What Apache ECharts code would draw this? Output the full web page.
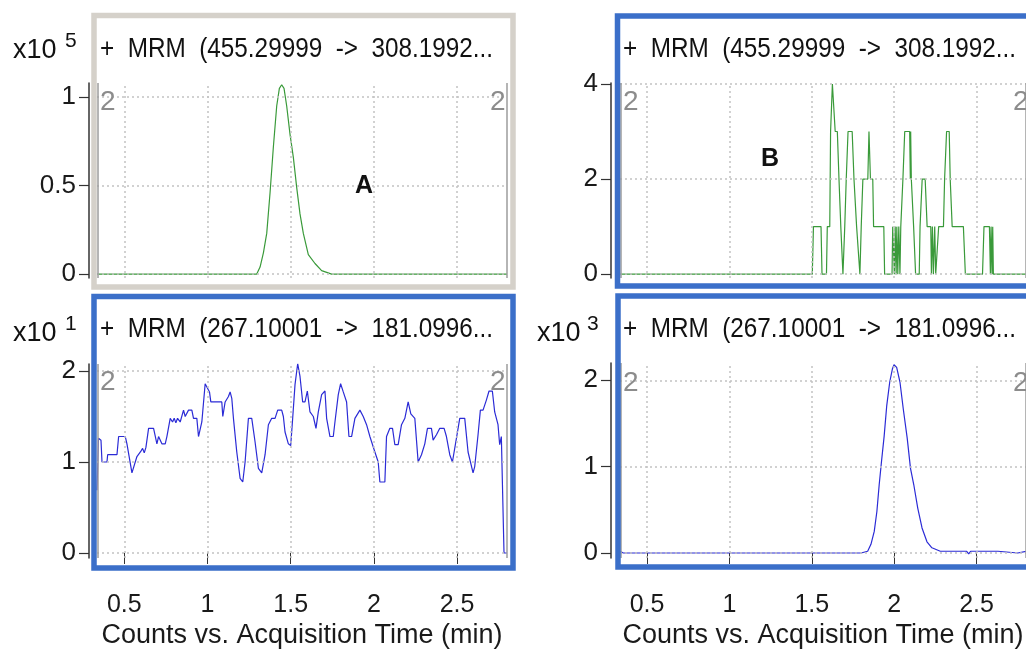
<!DOCTYPE html>
<html><head><meta charset="utf-8">
<script src="https://cdn.jsdelivr.net/npm/echarts@6/dist/echarts.min.js"></script>
<style>html,body{margin:0;padding:0;background:#fff;overflow:hidden}#c{width:1026px;height:657px}</style>
</head><body><div id="c"></div>
<script>
// ---- data ----
const headerTop = '+  MRM  (455.29999  ->  308.1992...';
const headerBottom = '+  MRM  (267.10001  ->  181.0996...';
const xTitle = 'Counts vs. Acquisition Time (min)';
const timeTicks = [0.5, 1, 1.5, 2, 2.5];
const timeRange = [0.336, 2.8];
const yTicksA = [0, 0.5, 1];
const yTicksB = [0, 2, 4];
const yTicksC = [0, 1, 2];
const yTicksD = [0, 1, 2];
const exponentA = '5', exponentC = '1', exponentD = '3';
const panelLabels = ['A', 'B'];

// A: counts x10^5 (455.3 -> 308.2), peak ~1.45 min
const seriesA = [[0.336,0],[1.296,0],[1.316,0.04],[1.336,0.12],[1.356,0.23],[1.376,0.46],[1.396,0.72],[1.416,0.95],[1.432,1.05],[1.446,1.07],[1.46,1.05],[1.476,0.95],[1.496,0.79],[1.516,0.66],[1.536,0.49],[1.556,0.34],[1.576,0.23],[1.606,0.11],[1.646,0.06],[1.686,0.02],[1.746,0],[2.8,0]];
// B: counts (455.3 -> 308.2), noise
const seriesB = [[0.336,0],[1.503,0],[1.51,1],[1.556,1],[1.562,0],[1.589,0],[1.594,1],[1.609,1],[1.614,3],[1.62,3],[1.625,4],[1.636,4],[1.642,3],[1.655,3],[1.665,2],[1.676,1],[1.689,0],[1.695,0],[1.70,1],[1.709,2],[1.72,3],[1.745,3],[1.756,2],[1.772,1],[1.792,0],[1.796,0],[1.80,1],[1.81,2],[1.84,2],[1.847,3],[1.851,3],[1.856,2],[1.87,2],[1.875,1],[1.937,1],[1.942,0],[1.987,0],[1.991,1],[1.998,1],[2.001,0],[2.006,1],[2.012,0],[2.016,1],[2.022,0],[2.028,1],[2.035,0],[2.04,1],[2.047,1],[2.053,2],[2.064,3],[2.094,3],[2.098,2],[2.10,3],[2.104,2],[2.118,1],[2.13,0],[2.152,0],[2.157,1],[2.17,2],[2.188,2],[2.2,1],[2.222,1],[2.226,0],[2.232,1],[2.238,0],[2.246,1],[2.252,0],[2.262,0],[2.27,1],[2.299,1],[2.306,2],[2.318,3],[2.334,3],[2.34,2],[2.352,1],[2.42,1],[2.432,0],[2.536,0],[2.545,1],[2.578,1],[2.584,0],[2.588,1],[2.594,0],[2.598,1],[2.602,0],[2.8,0]];
// C: counts x10^1 (267.1 -> 181.1), noise
const seriesC = [[0.336,0.69],[0.34,0.69],[0.345,1.26],[0.35,1.26],[0.36,1.24],[0.366,1.0],[0.396,1.0],[0.40,1.08],[0.456,1.08],[0.466,1.28],[0.506,1.28],[0.516,1.2],[0.546,0.88],[0.576,1.06],[0.60,1.12],[0.61,1.15],[0.62,1.1],[0.63,1.16],[0.636,1.15],[0.646,1.37],[0.676,1.37],[0.696,1.2],[0.706,1.28],[0.716,1.28],[0.726,1.2],[0.746,1.2],[0.756,1.28],[0.776,1.48],[0.79,1.44],[0.80,1.48],[0.81,1.43],[0.82,1.48],[0.836,1.44],[0.856,1.57],[0.866,1.50],[0.886,1.57],[0.906,1.57],[0.916,1.48],[0.936,1.48],[0.946,1.28],[0.956,1.28],[0.966,1.44],[0.986,1.86],[0.996,1.86],[1.012,1.77],[1.02,1.66],[1.086,1.66],[1.092,1.50],[1.106,1.66],[1.126,1.72],[1.136,1.77],[1.146,1.70],[1.156,1.48],[1.176,1.11],[1.196,0.82],[1.212,0.78],[1.226,1.00],[1.246,1.48],[1.266,1.48],[1.286,1.22],[1.306,0.93],[1.326,0.88],[1.336,0.88],[1.346,1.08],[1.366,1.41],[1.386,1.48],[1.406,1.48],[1.422,1.57],[1.446,1.57],[1.456,1.50],[1.466,1.33],[1.486,1.20],[1.50,1.18],[1.512,1.48],[1.526,1.85],[1.542,2.08],[1.556,1.94],[1.572,1.66],[1.586,1.66],[1.60,1.78],[1.616,1.55],[1.636,1.50],[1.652,1.37],[1.666,1.55],[1.686,1.74],[1.706,1.78],[1.716,1.48],[1.736,1.28],[1.756,1.28],[1.766,1.44],[1.786,1.74],[1.80,1.86],[1.816,1.77],[1.836,1.66],[1.85,1.28],[1.866,1.28],[1.886,1.48],[1.916,1.57],[1.936,1.50],[1.956,1.41],[1.976,1.28],[2.006,1.11],[2.026,1.00],[2.036,0.78],[2.066,0.78],[2.076,1.28],[2.096,1.37],[2.112,1.37],[2.126,1.19],[2.146,1.19],[2.166,1.41],[2.186,1.48],[2.206,1.66],[2.222,1.53],[2.246,1.48],[2.266,1.00],[2.286,1.08],[2.306,1.20],[2.322,1.37],[2.346,1.37],[2.356,1.24],[2.376,1.30],[2.396,1.37],[2.422,1.37],[2.436,1.28],[2.456,1.08],[2.472,1.00],[2.496,1.26],[2.516,1.48],[2.546,1.48],[2.566,1.11],[2.596,0.88],[2.606,0.95],[2.626,1.30],[2.64,1.57],[2.656,1.57],[2.676,1.68],[2.692,1.78],[2.712,1.78],[2.726,1.55],[2.746,1.41],[2.756,1.19],[2.766,1.28],[2.776,1.28],[2.782,0],[2.8,0]];
// D: counts x10^3 (267.1 -> 181.1), peak ~2.0 min
const seriesD = [[0.336,0.02],[0.345,0.03],[0.356,0],[1.799,0],[1.803,0.02],[1.839,0.02],[1.859,0.1],[1.879,0.25],[1.895,0.48],[1.909,0.79],[1.923,1.06],[1.939,1.35],[1.955,1.71],[1.973,1.98],[1.989,2.13],[1.999,2.18],[2.015,2.15],[2.035,1.98],[2.055,1.67],[2.079,1.33],[2.099,0.98],[2.119,0.79],[2.143,0.52],[2.169,0.29],[2.199,0.13],[2.229,0.06],[2.28,0.02],[2.44,0.02],[2.452,-0.01],[2.464,0.02],[2.63,0.02],[2.636,0],[2.75,0],[2.76,0.02],[2.8,0.02]];

// ---- styling / layout ----
const FONT = '"Liberation Sans", Arial, sans-serif';
const GREEN = '#3a9a3a', BLUE = '#2b2bd6';
const FRAME_BLUE = '#3b6fc9', FRAME_GRAY = '#d5d1ca';

const panels = [
  {grid:{left:97, top:83, width:410, height:195}, y:[-0.022,1.08], ticks:yTicksA, data:seriesA, color:GREEN, off:8, bottom:false},
  {grid:{left:620, top:83, width:410, height:195}, y:[-0.08,4.02], ticks:yTicksB, data:seriesB, color:GREEN, off:9, bottom:false},
  {grid:{left:97, top:364, width:410, height:194}, y:[-0.055,2.077], ticks:yTicksC, data:seriesC, color:BLUE, off:8, bottom:true},
  {grid:{left:620, top:363, width:410, height:195}, y:[-0.058,2.2], ticks:yTicksD, data:seriesD, color:BLUE, off:9, bottom:true}
];

function gridMarks(yTicks){
  const dotted = {type:[2,3], color:'#c2c2c2', width:1.5};
  const edge = {type:'solid', color:'#9c9c9c', width:1.5};
  return {
    silent:true, symbol:['none','none'], label:{show:false}, animation:false,
    emphasis:{disabled:true},
    data: [].concat(
      timeTicks.map(v => ({xAxis:v, lineStyle:dotted})),
      yTicks.map(v => ({yAxis:v, lineStyle:dotted})),
      [{xAxis:timeRange[0], lineStyle:edge}, {xAxis:timeRange[1], lineStyle:edge}]
    )
  };
}

const grids = [], xAxes = [], yAxes = [], series = [];
panels.forEach((p, i) => {
  grids.push(Object.assign({containLabel:false}, p.grid));
  xAxes.push({
    type:'value', gridIndex:i, min:timeRange[0], max:timeRange[1],
    show:p.bottom, position:'bottom', offset:17,
    splitLine:{show:false}, axisLine:{show:false},
    axisTick:{show:true, customValues:timeTicks, length:11, inside:false, lineStyle:{color:'#333', width:1}},
    axisLabel:{customValues:timeTicks, margin:18, fontSize:25, color:'#1a1a1a', fontFamily:FONT},
    name:xTitle, nameLocation:'middle', nameGap:47,
    nameTextStyle:{fontSize:27, color:'#1a1a1a', fontFamily:FONT}
  });
  yAxes.push({
    type:'value', gridIndex:i, min:p.y[0], max:p.y[1], position:'left', offset:p.off,
    splitLine:{show:false},
    axisLine:{show:true, lineStyle:{color:'#333', width:1.5}},
    axisTick:{show:true, customValues:p.ticks, length:10, lineStyle:{color:'#333', width:1.2}},
    axisLabel:{customValues:p.ticks, margin:13, fontSize:26, color:'#1a1a1a', fontFamily:FONT}
  });
  series.push({
    type:'line', xAxisIndex:i, yAxisIndex:i, data:p.data, showSymbol:false, symbol:'none',
    lineStyle:{color:p.color, width:1.2}, itemStyle:{color:p.color}, animation:false, z:3,
    markLine: gridMarks(p.ticks)
  });
});

function txt(x, y, text, size, opts){
  return Object.assign({type:'text', x:x, y:y, z:20, silent:true,
    style:{text:text, fontSize:size, fontFamily:FONT, fill:'#111', verticalAlign:'middle', align:'left'}}, opts || {});
}
function frame(x, y, w, h, color){
  return {type:'rect', z:10, silent:true, shape:{x:x, y:y, width:w, height:h}, style:{fill:'none', stroke:color, lineWidth:5.5}};
}

const graphics = [
  frame(94, 15.5, 419, 271.5, FRAME_GRAY),
  frame(617.5, 16, 420, 270, FRAME_BLUE),
  frame(94, 296.5, 419, 271.5, FRAME_BLUE),
  frame(618, 296, 420, 271, FRAME_BLUE),
  txt(100, 49.5, headerTop, 27, {scaleX:0.9}),
  txt(623, 49.5, headerTop, 27, {scaleX:0.9}),
  txt(100, 329.5, headerBottom, 27, {scaleX:0.9}),
  txt(623, 329.5, headerBottom, 27, {scaleX:0.9}),
  txt(13, 50.5, 'x10', 27), txt(65, 41, exponentA, 21),
  txt(13, 333.5, 'x10', 27), txt(65, 324.5, exponentC, 21),
  txt(537, 333.5, 'x10', 27), txt(587, 324.5, exponentD, 21)
];
// gray "2" markers at plot corners
[[100,102],[490,102],[623,102],[1013,102],[100,382],[490,382],[623,383],[1013,383]].forEach(pt => {
  graphics.push(txt(pt[0], pt[1], '2', 28, {style:{text:'2', fontSize:28, fontFamily:FONT, fill:'#8c8c8c', verticalAlign:'middle', align:'left'}}));
});
graphics.push(txt(364, 186, panelLabels[0], 25, {style:{text:panelLabels[0], fontSize:25, fontWeight:'bold', fontFamily:FONT, fill:'#111', verticalAlign:'middle', align:'center'}}));
graphics.push(txt(770, 159, panelLabels[1], 25, {style:{text:panelLabels[1], fontSize:25, fontWeight:'bold', fontFamily:FONT, fill:'#111', verticalAlign:'middle', align:'center'}}));

const chart = echarts.init(document.getElementById('c'), null, {renderer:'canvas'});
chart.setOption({
  animation:false, backgroundColor:'#fff',
  grid:grids, xAxis:xAxes, yAxis:yAxes, series:series, graphic:graphics
});
</script></body></html>
